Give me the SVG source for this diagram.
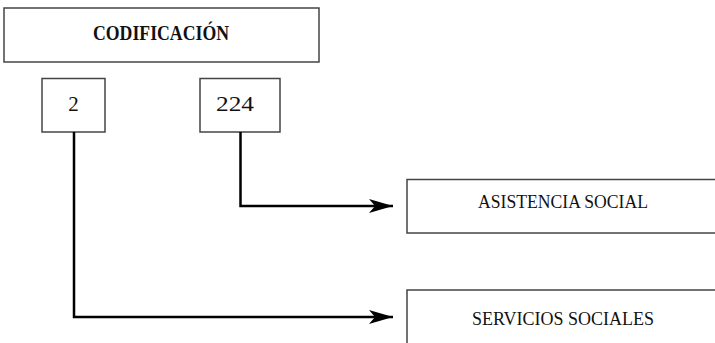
<svg xmlns="http://www.w3.org/2000/svg" width="715" height="343" viewBox="0 0 715 343">
<style>
.box{fill:#fff;stroke:#444;stroke-width:1.5}
.t{font-family:"Liberation Serif","Times New Roman",serif;fill:#111;text-anchor:middle}
.conn{fill:none;stroke:#000;stroke-width:2.5}
</style>
<defs>
<marker id="arr" markerUnits="userSpaceOnUse" markerWidth="26" markerHeight="16" refX="24" refY="7" orient="auto">
<path d="M0,0 L24,7 L0,14 L6,7 Z" fill="#000"/>
</marker>
</defs>
<rect width="715" height="343" fill="#fff"/>
<g id="codificacion">
<rect class="box" x="4" y="8" width="315" height="54"/>
<text class="t" x="161" y="40" font-size="20" font-weight="bold" textLength="136" lengthAdjust="spacingAndGlyphs">CODIFICACIÓN</text>
</g>
<g id="n2">
<rect class="box" x="42" y="78.5" width="63" height="53.5"/>
<text class="t" x="73.5" y="111" font-size="21">2</text>
</g>
<g id="n224">
<rect class="box" x="200" y="78.5" width="80" height="53.5"/>
<text class="t" x="235" y="111" font-size="21" textLength="38" lengthAdjust="spacingAndGlyphs">224</text>
</g>
<g id="asistencia">
<rect class="box" x="407" y="179.5" width="320" height="53.5"/>
<text class="t" x="563" y="208" font-size="19.5" textLength="170" lengthAdjust="spacingAndGlyphs">ASISTENCIA SOCIAL</text>
</g>
<g id="servicios">
<rect class="box" x="407" y="290" width="320" height="60"/>
<text class="t" x="563" y="325" font-size="19.5" textLength="182" lengthAdjust="spacingAndGlyphs">SERVICIOS SOCIALES</text>
</g>
<g id="connectors">
<path class="conn" d="M240.5,132 V206 H393" marker-end="url(#arr)"/>
<path class="conn" d="M74,132 V317 H393" marker-end="url(#arr)"/>
</g>
</svg>
